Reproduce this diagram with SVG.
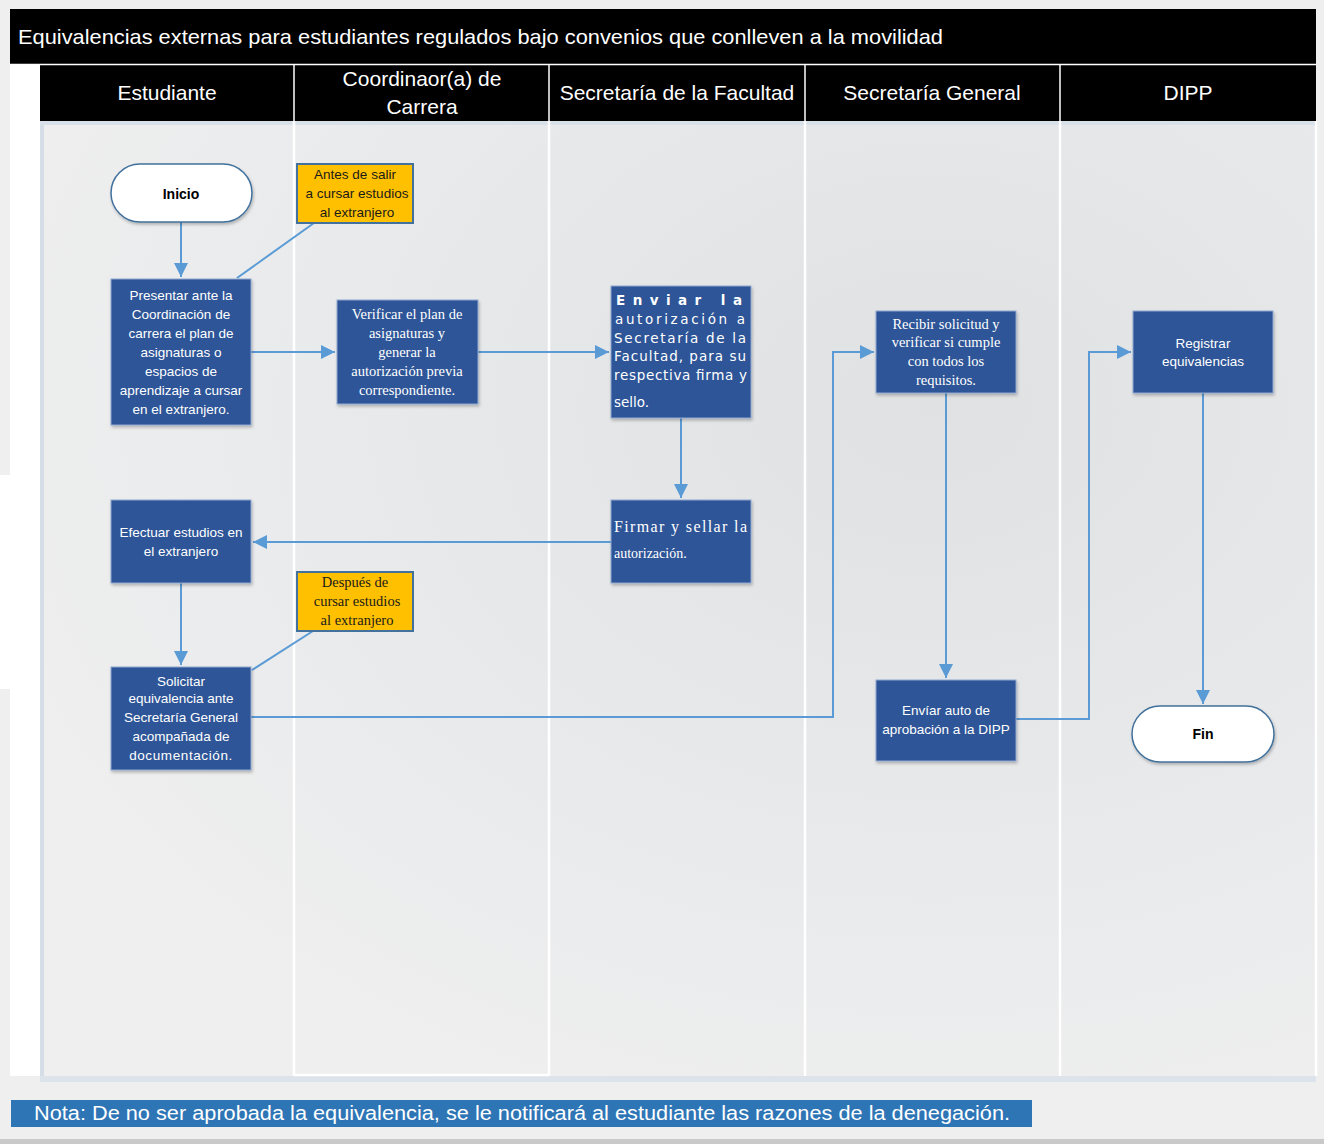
<svg xmlns="http://www.w3.org/2000/svg" width="1324" height="1144" viewBox="0 0 1324 1144">
<defs>
<style>
.hdr{font-family:"Liberation Sans",Arial,sans-serif;font-size:21px;fill:#fff;text-anchor:middle}
.box{fill:#2f5597;stroke:#8fa8d0;stroke-width:1}
.bt{font-family:"Liberation Sans",Arial,sans-serif;font-size:13.5px;fill:#fff;text-anchor:middle}
.bs{font-family:"Liberation Serif","Times New Roman",serif;font-size:14.5px;fill:#fff;text-anchor:middle}
.note{fill:#ffc000;stroke:#41719c;stroke-width:2}
.nt{font-family:"Liberation Sans",Arial,sans-serif;font-size:13.5px;fill:#1a1a1a;text-anchor:middle}
.ns{font-family:"Liberation Serif","Times New Roman",serif;font-size:14.5px;fill:#1a1a1a;text-anchor:middle}
.pill{fill:#fff;stroke:#41719c;stroke-width:1.5}
.pt{font-family:"Liberation Sans",Arial,sans-serif;font-size:14px;font-weight:bold;fill:#000;text-anchor:middle}
.con{fill:none;stroke:#5b9bd5;stroke-width:2}
.lnk{fill:none;stroke:#5b9bd5;stroke-width:2}
.lane{stroke:#fff;stroke-width:2.5}
.vt{font-family:"DejaVu Sans",Verdana,sans-serif;font-size:13.5px;fill:#fff}
</style>
<marker id="ah" viewBox="0 0 10 10" refX="10" refY="5" markerWidth="7" markerHeight="7" markerUnits="strokeWidth" orient="auto">
<path d="M0,0 L10,5 L0,10 Z" fill="#5b9bd5"/>
</marker>
<radialGradient id="bg" cx="0.7" cy="0.3" r="0.8">
<stop offset="0" stop-color="#e0e1e3"/>
<stop offset="0.6" stop-color="#e9eaec"/>
<stop offset="1" stop-color="#efefef"/>
</radialGradient>
<filter id="sh" x="-10%" y="-10%" width="130%" height="130%">
<feDropShadow dx="1" dy="2" stdDeviation="1.5" flood-color="#000" flood-opacity="0.25"/>
</filter>
</defs>
<rect x="0" y="0" width="1324" height="1144" fill="#efefef"/>
<rect x="0" y="1139" width="1324" height="5" fill="#c9c9c9"/>
<rect x="0" y="475" width="10" height="214" fill="#fff"/>
<g id="pool">
<rect x="10" y="65" width="30" height="1011" fill="#fff"/>
<rect x="40" y="1076" width="1276" height="6" fill="#dde3ea"/>
<rect x="40" y="121" width="1276" height="955" fill="url(#bg)"/>
<rect x="40" y="121" width="4" height="955" fill="#d5dde6"/>
<rect x="40" y="121" width="1276" height="4" fill="#d8e0ea"/>
<line class="lane" x1="294" y1="121" x2="294" y2="1076"/>
<line class="lane" x1="549" y1="121" x2="549" y2="1076"/>
<line class="lane" x1="805" y1="121" x2="805" y2="1076"/>
<line class="lane" x1="1060" y1="121" x2="1060" y2="1076"/>
<line class="lane" x1="1316" y1="121" x2="1316" y2="1076"/>
<line class="lane" x1="294" y1="1075" x2="549" y2="1075"/>
</g>
<g id="title">
<rect x="10" y="9" width="1306" height="55" fill="#000"/>
<text x="18" y="44" font-family="Liberation Sans, Arial, sans-serif" font-size="21" fill="#fff" textLength="925" lengthAdjust="spacingAndGlyphs">Equivalencias externas para estudiantes regulados bajo convenios que conlleven a la movilidad</text>
</g>
<g id="headers">
<rect x="40" y="65" width="1276" height="56" fill="#000"/>
<line x1="10" y1="64.5" x2="1316" y2="64.5" stroke="#fff" stroke-width="1.5"/>
<line x1="294" y1="65" x2="294" y2="121" stroke="#fff" stroke-width="1.5"/>
<line x1="549" y1="65" x2="549" y2="121" stroke="#fff" stroke-width="1.5"/>
<line x1="805" y1="65" x2="805" y2="121" stroke="#fff" stroke-width="1.5"/>
<line x1="1060" y1="65" x2="1060" y2="121" stroke="#fff" stroke-width="1.5"/>
<text class="hdr" x="167" y="100">Estudiante</text>
<text class="hdr" x="422" y="86">Coordinaor(a) de</text>
<text class="hdr" x="422" y="114">Carrera</text>
<text class="hdr" x="677" y="100">Secretaría de la Facultad</text>
<text class="hdr" x="932" y="100">Secretaría General</text>
<text class="hdr" x="1188" y="100">DIPP</text>
</g>
<g id="connectors">
<line class="lnk" x1="237" y1="278" x2="314" y2="223"/>
<line class="lnk" x1="252" y1="670" x2="313" y2="631"/>
<path class="con" d="M181,222 V277" marker-end="url(#ah)"/>
<path class="con" d="M251,352 H335" marker-end="url(#ah)"/>
<path class="con" d="M478,352 H609" marker-end="url(#ah)"/>
<path class="con" d="M681,418 V498" marker-end="url(#ah)"/>
<path class="con" d="M611,542 H253" marker-end="url(#ah)"/>
<path class="con" d="M181,583 V665" marker-end="url(#ah)"/>
<path class="con" d="M251,717 H833 V352 H874" marker-end="url(#ah)"/>
<path class="con" d="M946,393 V678" marker-end="url(#ah)"/>
<path class="con" d="M1016,719 H1089 V352 H1131" marker-end="url(#ah)"/>
<path class="con" d="M1203,393 V704" marker-end="url(#ah)"/>
</g>
<g id="inicio">
<rect class="pill" x="111" y="164" width="141" height="58" rx="29" filter="url(#sh)"/>
<text class="pt" x="181" y="199">Inicio</text>
</g>
<g id="nota-antes">
<rect class="note" x="297" y="164" width="116" height="59"/>
<text class="nt" x="355" y="179">Antes de salir</text>
<text class="nt" x="357" y="198">a cursar estudios</text>
<text class="nt" x="357" y="217">al extranjero</text>
</g>
<g id="presentar">
<rect class="box" x="111" y="279" width="140" height="146" filter="url(#sh)"/>
<text class="bt" x="181" y="300">Presentar ante la</text>
<text class="bt" x="181" y="319">Coordinación de</text>
<text class="bt" x="181" y="338">carrera el plan de</text>
<text class="bt" x="181" y="357">asignaturas o</text>
<text class="bt" x="181" y="376">espacios de</text>
<text class="bt" x="181" y="395">aprendizaje a cursar</text>
<text class="bt" x="181" y="414">en el extranjero.</text>
</g>
<g id="verificar">
<rect class="box" x="337" y="300" width="141" height="104" filter="url(#sh)"/>
<text class="bs" x="407" y="319">Verificar el plan de</text>
<text class="bs" x="407" y="338">asignaturas y</text>
<text class="bs" x="407" y="357">generar la</text>
<text class="bs" x="407" y="376">autorización previa</text>
<text class="bs" x="407" y="395">correspondiente.</text>
</g>
<g id="enviar">
<rect class="box" x="611" y="286" width="140" height="132" filter="url(#sh)"/>
<text class="vt" x="616" y="305" font-size="17" font-weight="bold" textLength="126" lengthAdjust="spacing">Enviar la</text>
<text class="vt" x="615" y="324" textLength="130" lengthAdjust="spacing">autorización a</text>
<text class="vt" x="614" y="343" textLength="132" lengthAdjust="spacing">Secretaría de la</text>
<text class="vt" x="614" y="361" textLength="132" lengthAdjust="spacing">Facultad, para su</text>
<text class="vt" x="614" y="380" textLength="133" lengthAdjust="spacing">respectiva firma y</text>
<text class="vt" x="614" y="407" font-size="13">sello.</text>
</g>
<g id="firmar">
<rect class="box" x="611" y="500" width="140" height="83" filter="url(#sh)"/>
<text x="614" y="532" font-family="Liberation Serif, Times New Roman, serif" font-size="16" fill="#fff" textLength="133" lengthAdjust="spacing">Firmar y sellar la</text>
<text x="614" y="558" font-family="Liberation Serif, Times New Roman, serif" font-size="14" fill="#fff">autorización.</text>
</g>
<g id="efectuar">
<rect class="box" x="111" y="500" width="140" height="83" filter="url(#sh)"/>
<text class="bt" x="181" y="537">Efectuar estudios en</text>
<text class="bt" x="181" y="556">el extranjero</text>
</g>
<g id="nota-despues">
<rect class="note" x="297" y="572" width="116" height="59"/>
<text class="ns" x="355" y="587">Después de</text>
<text class="ns" x="357" y="606">cursar estudios</text>
<text class="ns" x="357" y="625">al extranjero</text>
</g>
<g id="solicitar">
<rect class="box" x="111" y="667" width="140" height="103" filter="url(#sh)"/>
<text class="bt" x="181" y="686">Solicitar</text>
<text class="bt" x="181" y="703">equivalencia ante</text>
<text class="bt" x="181" y="722">Secretaría General</text>
<text class="bt" x="181" y="741">acompañada de</text>
<text class="bt" x="181" y="760" letter-spacing="0.6">documentación.</text>
</g>
<g id="recibir">
<rect class="box" x="876" y="311" width="140" height="82" filter="url(#sh)"/>
<text class="bs" x="946" y="329">Recibir solicitud y</text>
<text class="bs" x="946" y="347">verificar si cumple</text>
<text class="bs" x="946" y="366">con todos los</text>
<text class="bs" x="946" y="385">requisitos.</text>
</g>
<g id="enviar-auto">
<rect class="box" x="876" y="680" width="140" height="81" filter="url(#sh)"/>
<text class="bt" x="946" y="715">Envíar auto de</text>
<text class="bt" x="946" y="734">aprobación a la DIPP</text>
</g>
<g id="registrar">
<rect class="box" x="1133" y="311" width="140" height="82" filter="url(#sh)"/>
<text class="bt" x="1203" y="348">Registrar</text>
<text class="bt" x="1203" y="366">equivalencias</text>
</g>
<g id="fin">
<rect class="pill" x="1132" y="706" width="142" height="56" rx="28" filter="url(#sh)"/>
<text class="pt" x="1203" y="739">Fin</text>
</g>
<g id="nota-final">
<rect x="11" y="1100" width="1021" height="27" fill="#2e75b6"/>
<text x="34" y="1120" font-family="Liberation Sans, Arial, sans-serif" font-size="20" fill="#fff" textLength="976" lengthAdjust="spacingAndGlyphs">Nota: De no ser aprobada la equivalencia, se le notificará al estudiante las razones de la denegación.</text>
</g>
</svg>
